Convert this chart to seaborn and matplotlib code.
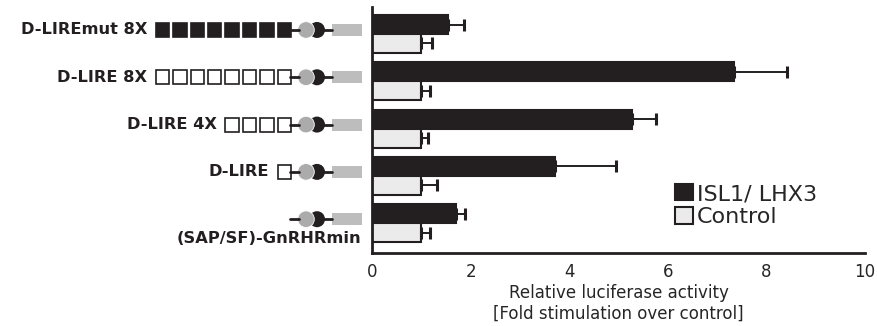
import numpy as np
import pandas as pd
import matplotlib
matplotlib.use("Agg")
import matplotlib.pyplot as plt
import seaborn as sns
from matplotlib.patches import Rectangle, Circle

# ---- data ----
constructs = ["D-LIREmut 8X", "D-LIRE 8X", "D-LIRE 4X", "D-LIRE", "(SAP/SF)-GnRHRmin"]
n_elements = [8, 8, 4, 1, 0]
mutant = [True, False, False, False, False]
series = ["ISL1/ LHX3", "Control"]
isl1_lhx3 = [1.54, 7.34, 5.27, 3.72, 1.71]
isl1_err = [0.33, 1.07, 0.50, 1.22, 0.17]
control = [1.0, 1.0, 1.0, 1.0, 1.0]
control_err = [0.22, 0.17, 0.14, 0.32, 0.18]
x_ticks = [0, 2, 4, 6, 8, 10]
x_label = "Relative luciferase activity\n[Fold stimulation over control]"

BLACK = "#231f20"
LIGHT = "#ebebeb"

sns.set_style("white")
plt.rcParams["font.family"] = ["DejaVu Sans"]

W, H = 877, 326
fig = plt.figure(figsize=(W / 100, H / 100), dpi=100)
ax = fig.add_axes([372 / W, 73 / H, 493 / W, 246 / H])

df = pd.DataFrame({
    "construct": constructs * 2,
    "series": [series[0]] * len(constructs) + [series[1]] * len(constructs),
    "value": isl1_lhx3 + control,
})
sns.barplot(data=df, y="construct", x="value", hue="series", hue_order=series,
            order=constructs, palette=[BLACK, LIGHT], saturation=1,
            edgecolor=BLACK, linewidth=1.5, width=0.8, errorbar=None, ax=ax)

# error bars (upper side only)
for cont, vals, errs in zip(ax.containers, [isl1_lhx3, control], [isl1_err, control_err]):
    ys = [b.get_y() + b.get_height() / 2 for b in cont]
    ax.errorbar(vals, ys, xerr=[np.zeros(len(vals)), errs], fmt="none",
                ecolor=BLACK, elinewidth=1.4, capsize=4, capthick=2.2, zorder=1)

ax.set_xlim(0, 10)
ax.set_ylim(4.63, -0.57)
ax.set_xticks(x_ticks)
ax.set_xticklabels([str(t) for t in x_ticks])
ax.set_yticks([])
ax.set_ylabel("")
ax.set_xlabel(x_label, fontsize=12, labelpad=2, linespacing=1.25)
ax.tick_params(axis="x", direction="out", length=4, width=2.2, labelsize=12, pad=3, color=BLACK)
for s in ["top", "right"]:
    ax.spines[s].set_visible(False)
for s in ["left", "bottom"]:
    ax.spines[s].set_linewidth(2)
    ax.spines[s].set_color(BLACK)

sns.move_legend(ax, loc="upper left", bbox_to_anchor=(675 / W, 1 - 184 / H),
                bbox_transform=fig.transFigure, frameon=False, title=None,
                fontsize=16, handlelength=0.8, handleheight=0.75,
                handletextpad=0.2, labelspacing=0.15, borderpad=0, borderaxespad=0)

# ---- construct diagrams on an overlay in pixel coordinates ----
ov = fig.add_axes([0, 0, 1, 1], zorder=5)
ov.set_xlim(0, W)
ov.set_ylim(H, 0)
ov.axis("off")
ov.patch.set_visible(False)

to_ov = ov.transData.inverted()
for i, (name, n, mut) in enumerate(zip(constructs, n_elements, mutant)):
    yc = to_ov.transform(ax.transData.transform((0, i)))[1] - 4
    ov.add_patch(Rectangle((331.5, yc - 6), 30.5, 12, fc="#bdbdbd", ec="none"))
    ov.plot([322, 332], [yc, yc], color=BLACK, lw=2)
    ov.add_patch(Circle((317, yc), 8.0, fc=BLACK, ec="none"))
    ov.add_patch(Circle((306, yc), 8.3, fc="#ababab", ec="white", lw=0.6))
    ov.plot([290, 299], [yc, yc], color=BLACK, lw=2)
    pitch = 17.4
    for k in range(n):
        xr = 291 - (n - 1 - k) * pitch
        ov.add_patch(Rectangle((xr - 13.5, yc - 7), 13.5, 14,
                               fc=BLACK if mut else "white", ec=BLACK, lw=1.2))
    if n > 0:
        left = 291 - (n - 1) * pitch - 13.5
        ov.text(left - 8.5, yc, name, ha="right", va="center",
                fontsize=11.7, fontweight="bold", color=BLACK)
    else:
        ov.text(361, yc + 19, name, ha="right", va="center",
                fontsize=11.7, fontweight="bold", color=BLACK)

fig.savefig("out.png", dpi=100)
